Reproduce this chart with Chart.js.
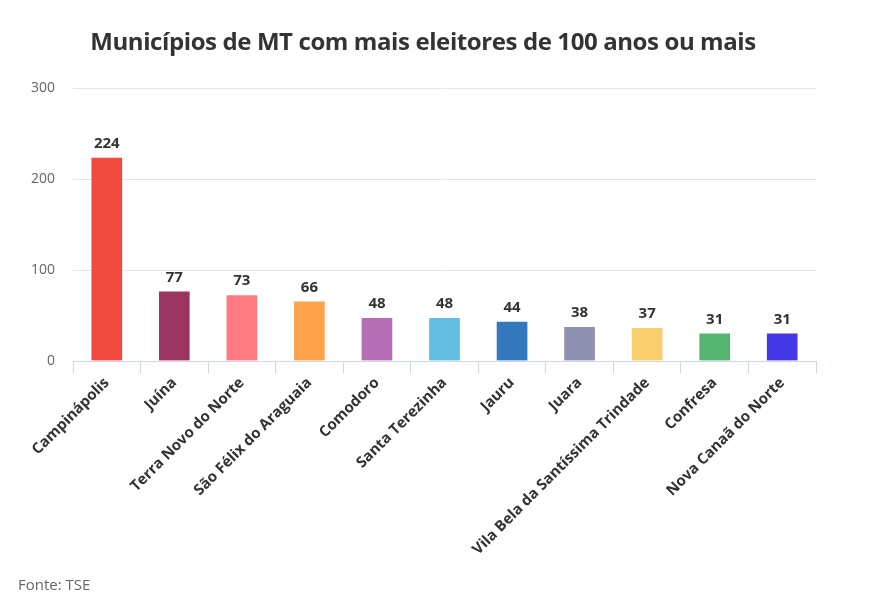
<!DOCTYPE html>
<html>
<head>
<meta charset="utf-8">
<script src="https://cdn.jsdelivr.net/npm/chart.js@4"></script>
<style>
  html, body { margin: 0; padding: 0; background: #fff; }
  #wrap { position: relative; width: 870px; height: 604px; font-family: "Open Sans", sans-serif; }
  #title { position: absolute; left: 0; width: 846px; top: 24px; text-align: center;
           font-size: 24px; font-weight: 700; color: #333; letter-spacing: -0.4px; }
  #source { position: absolute; left: 18px; top: 574px; font-size: 15px; color: #666; }
  canvas { position: absolute; left: 0; top: 0; }
</style>
</head>
<body>
<div id="wrap">
  <canvas id="myChart" width="870" height="604"></canvas>
  <div id="title">Municípios de MT com mais eleitores de 100 anos ou mais</div>
  <div id="source">Fonte: TSE</div>
</div>
<script>
"use strict";

const municipios = [
  "Campinápolis", "Juína", "Terra Novo do Norte", "São Félix do Araguaia",
  "Comodoro", "Santa Terezinha", "Jauru", "Juara",
  "Vila Bela da Santíssima Trindade", "Confresa", "Nova Canaã do Norte",
];
const eleitores = [224, 77, 73, 66, 48, 48, 44, 38, 37, 31, 31];
const barColors = [
  "#ee4a3e", "#9a3562", "#ff7b81", "#ffa24c", "#b56fb6", "#62bde1",
  "#3479be", "#8f90af", "#f9cf6e", "#55b470", "#4437e6",
];
const yTicks = [0, 100, 200, 300];

const valueLabels = {
  id: "valueLabels",
  afterDatasetsDraw(chart) {
    const ctx = chart.ctx;
    const meta = chart.getDatasetMeta(0);
    ctx.save();
    ctx.font = "bold 15px 'Open Sans'";
    ctx.fillStyle = "#333";
    ctx.textAlign = "center";
    ctx.textBaseline = "bottom";
    meta.data.forEach((bar, i) => {
      ctx.fillText(String(eleitores[i]), bar.x, bar.y - 6);
    });
    ctx.restore();
  },
};

const ctx = document.getElementById("myChart").getContext("2d");
const myChart = new Chart(ctx, {
  type: "bar",
  data: {
    labels: municipios,
    datasets: [
      {
        data: eleitores,
        backgroundColor: barColors,
        borderColor: "rgba(255, 255, 255, 0.35)",
        borderWidth: 1,
        barThickness: 32,
      },
    ],
  },
  options: {
    responsive: false,
    animation: false,
    layout: { padding: { top: 88, right: 54, left: 0, bottom: 0 } },
    plugins: {
      legend: { display: false },
      tooltip: { enabled: false },
    },
    scales: {
      x: {
        afterFit(scale) { scale.height = 243; },
        border: { color: "#ccd6eb", width: 1 },
        grid: { drawOnChartArea: false, color: "#ccd6eb", tickLength: 12, offset: true },
        ticks: {
          minRotation: 45,
          maxRotation: 45,
          autoSkip: false,
          padding: 1,
          color: "#333",
          font: { family: "'Open Sans'", size: 15, weight: "bold" },
        },
      },
      y: {
        min: 0,
        max: 300,
        afterFit(scale) { scale.width = 73; },
        afterBuildTicks(scale) { scale.ticks = yTicks.map((v) => ({ value: v })); },
        border: { display: false },
        grid: { color: "#e6e6e6", drawTicks: false },
        ticks: {
          padding: 18,
          color: "#666",
          font: { family: "'Open Sans'", size: 14 },
        },
      },
    },
  },
  plugins: [valueLabels],
});
</script>
</body>
</html>
